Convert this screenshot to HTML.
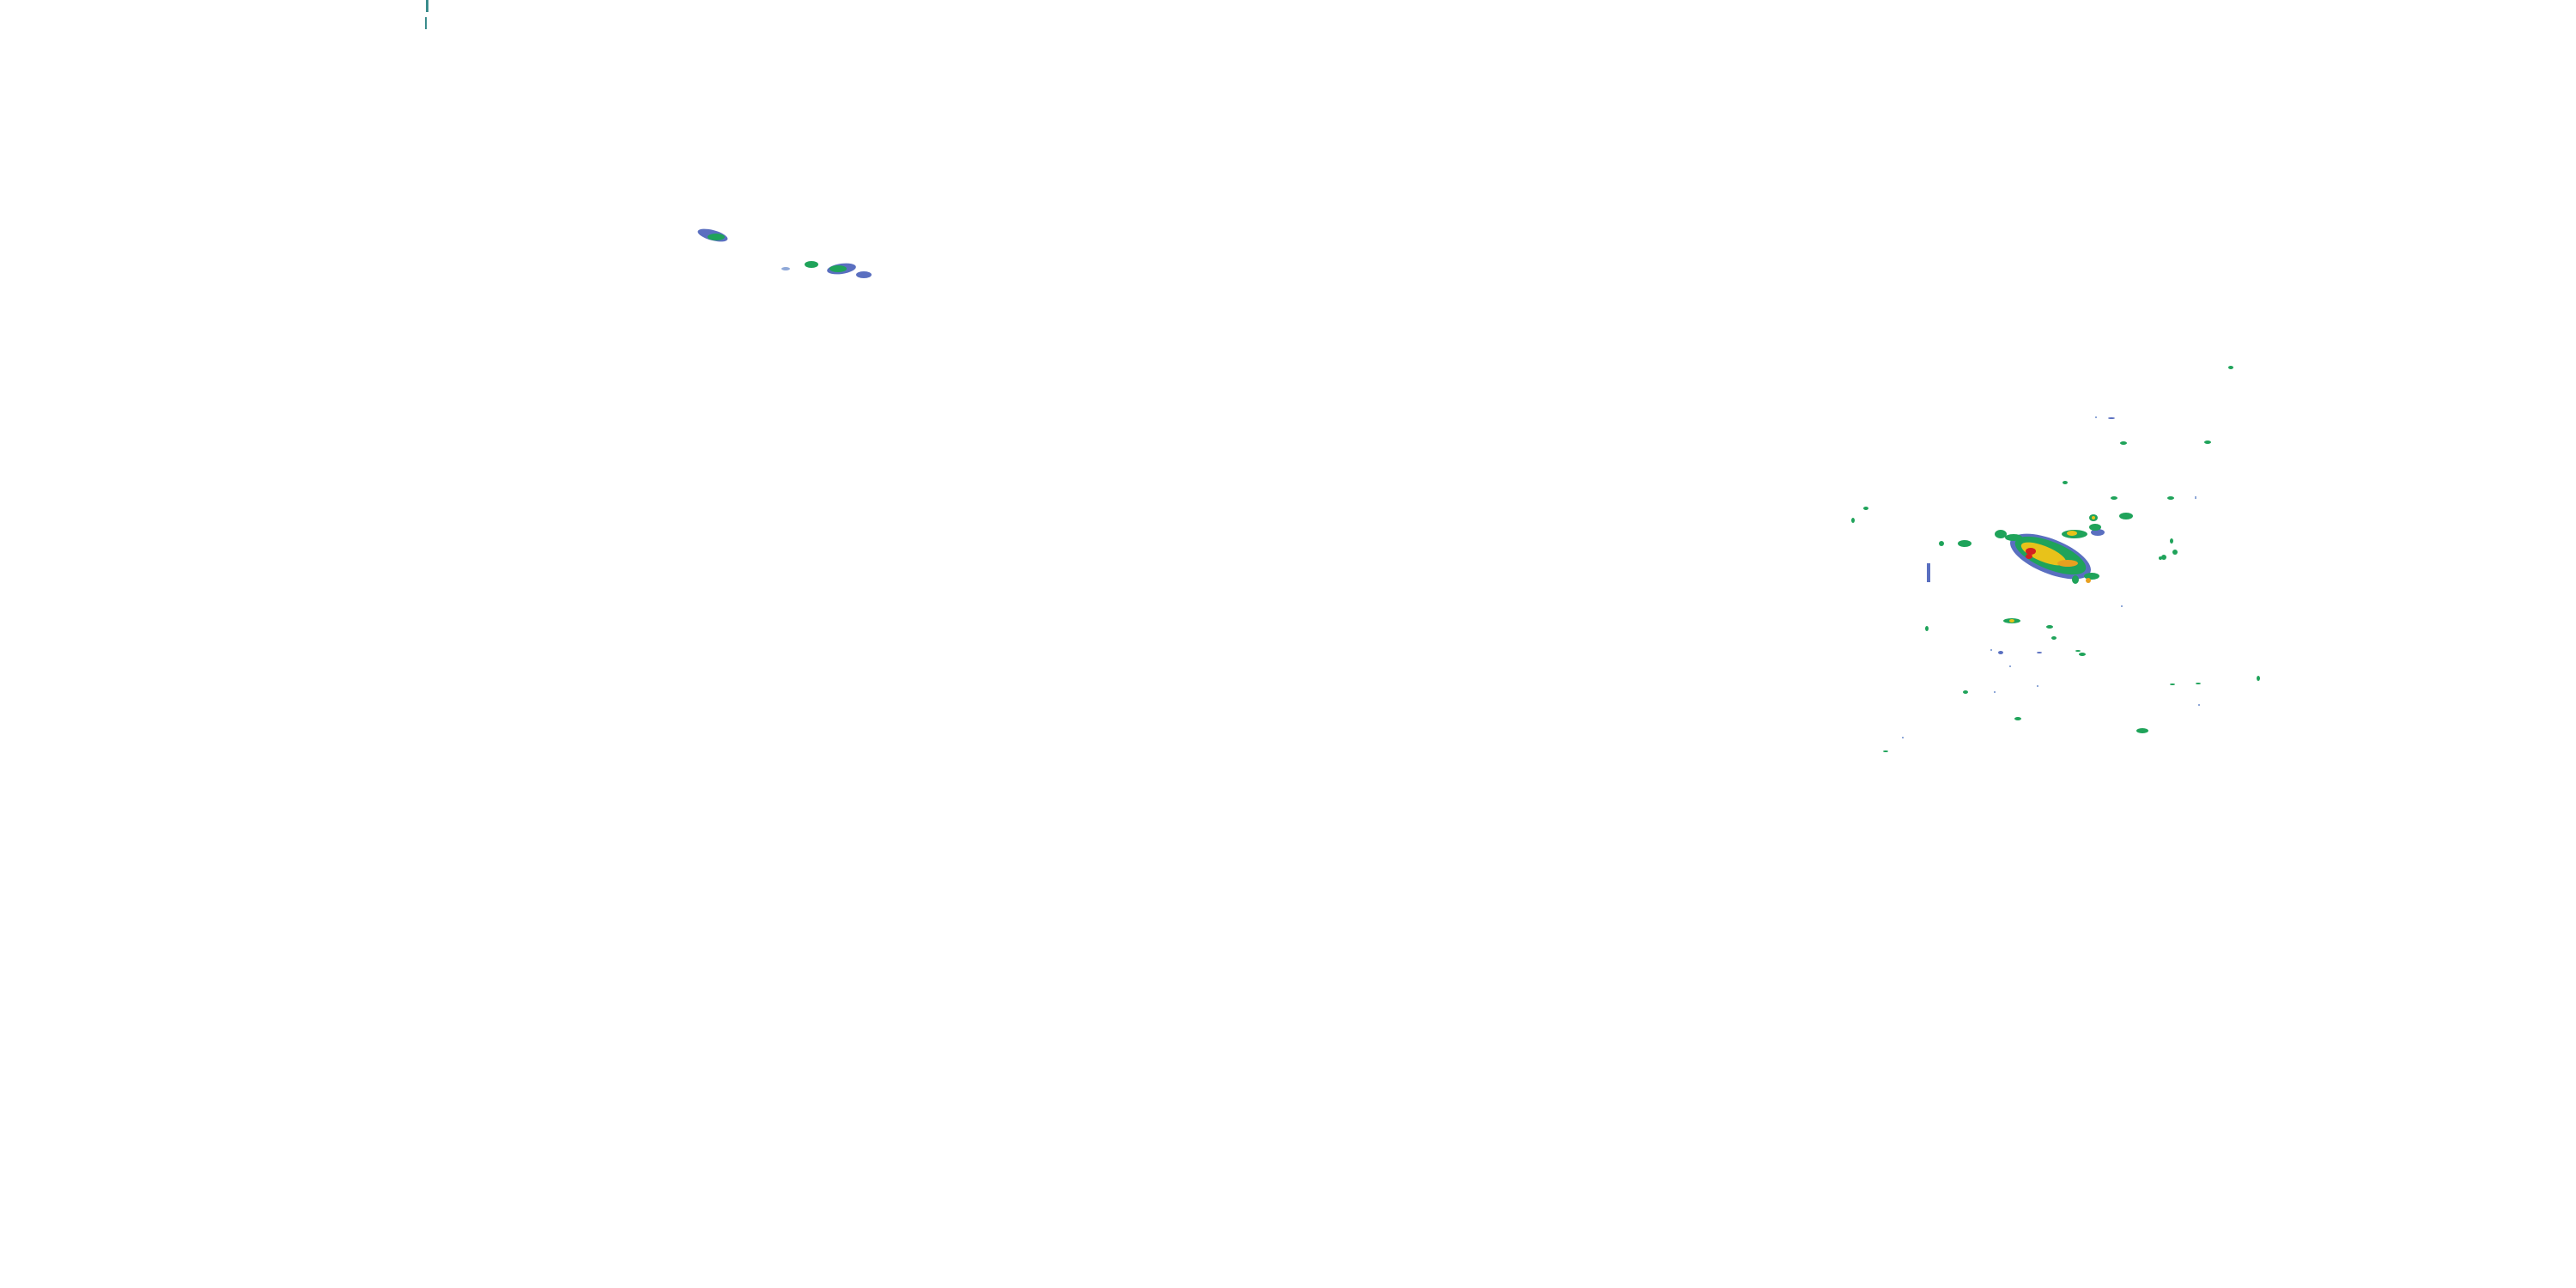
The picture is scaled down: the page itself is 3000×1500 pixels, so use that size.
<!DOCTYPE html>
<html><head><meta charset="utf-8"><style>
html,body{margin:0;padding:0;background:#fff;width:3000px;height:1500px;overflow:hidden}
</style></head><body>
<svg width="3000" height="1500" viewBox="0 0 3000 1500" xmlns="http://www.w3.org/2000/svg">
<rect width="3000" height="1500" fill="#fff"/>
<!-- top-left streak -->
<rect x="496" y="0" width="3" height="14" fill="#3a8c8c"/>
<rect x="495" y="20" width="2" height="14" fill="#3a8c8c"/>
<!-- NW cluster -->
<g>
<ellipse cx="830" cy="274" rx="18" ry="6" fill="#5a6fc0" transform="rotate(15 830 274)"/>
<ellipse cx="834" cy="276" rx="10" ry="4" fill="#1fa35a"/>
<ellipse cx="945" cy="308" rx="8" ry="4" fill="#1fa35a"/>
<ellipse cx="980" cy="313" rx="17" ry="6" fill="#5a6fc0" transform="rotate(-8 980 313)"/>
<ellipse cx="976" cy="313" rx="10" ry="4" fill="#1fa35a"/>
<ellipse cx="1006" cy="320" rx="9" ry="4" fill="#5a6fc0"/>
<ellipse cx="915" cy="313" rx="5" ry="2" fill="#8fa8d8"/>
</g>
<!-- main storm -->
<g>
<ellipse cx="2388" cy="648" rx="50" ry="20" fill="#5a6fc0" transform="rotate(22 2388 648)"/>
<ellipse cx="2388" cy="647" rx="44" ry="16" fill="#1fa35a" transform="rotate(22 2388 647)"/>
<ellipse cx="2380" cy="645" rx="28" ry="9" fill="#e8c21a" transform="rotate(22 2380 645)"/>
<ellipse cx="2365" cy="642" rx="6" ry="4" fill="#d42020"/>
<ellipse cx="2363" cy="648" rx="4" ry="3" fill="#d42020"/>
<ellipse cx="2408" cy="656" rx="12" ry="4" fill="#e8a020"/>
<ellipse cx="2416" cy="622" rx="15" ry="5" fill="#1fa35a"/>
<ellipse cx="2413" cy="621" rx="6" ry="3" fill="#e8c21a"/>
<ellipse cx="2443" cy="620" rx="8" ry="4" fill="#5a6fc0"/>
<ellipse cx="2440" cy="614" rx="7" ry="4" fill="#1fa35a"/>
<ellipse cx="2438" cy="603" rx="5" ry="4" fill="#1fa35a"/>
<ellipse cx="2438" cy="603" rx="2" ry="2" fill="#e8c21a"/>
<ellipse cx="2476" cy="601" rx="8" ry="4" fill="#1fa35a"/>
<ellipse cx="2330" cy="622" rx="7" ry="5" fill="#1fa35a"/>
<ellipse cx="2345" cy="626" rx="10" ry="4" fill="#1fa35a"/>
<ellipse cx="2288" cy="633" rx="8" ry="4" fill="#1fa35a"/>
<ellipse cx="2436" cy="671" rx="9" ry="4" fill="#1fa35a"/>
<ellipse cx="2432" cy="676" rx="3" ry="3" fill="#e8a020"/>
<ellipse cx="2417" cy="675" rx="4" ry="5" fill="#1fa35a"/>
<ellipse cx="2261" cy="633" rx="3" ry="3" fill="#1fa35a"/>
<ellipse cx="2520" cy="649" rx="3" ry="3" fill="#1fa35a"/>
<ellipse cx="2533" cy="643" rx="3" ry="3" fill="#1fa35a"/>
<ellipse cx="2529" cy="630" rx="2" ry="3" fill="#1fa35a"/>
<ellipse cx="2516" cy="650" rx="2" ry="2" fill="#1fa35a"/>
</g>
<!-- scattered -->
<g fill="#1fa35a">
<rect x="2244" y="656" width="4" height="22" fill="#5a6fc0"/>
<ellipse cx="2343" cy="723" rx="10" ry="3"/>
<ellipse cx="2343" cy="723" rx="3" ry="2" fill="#e8c21a"/>
<ellipse cx="2387" cy="730" rx="4" ry="2"/>
<ellipse cx="2392" cy="743" rx="3" ry="2"/>
<ellipse cx="2244" cy="732" rx="2" ry="3"/>
<ellipse cx="2462" cy="580" rx="4" ry="2"/>
<ellipse cx="2473" cy="516" rx="4" ry="2"/>
<ellipse cx="2405" cy="562" rx="3" ry="2"/>
<ellipse cx="2459" cy="487" rx="4" ry="1" fill="#5a6fc0"/>
<ellipse cx="2571" cy="515" rx="4" ry="2"/>
<ellipse cx="2528" cy="580" rx="4" ry="2"/>
<ellipse cx="2495" cy="851" rx="7" ry="3"/>
<ellipse cx="2350" cy="837" rx="4" ry="2"/>
<ellipse cx="2289" cy="806" rx="3" ry="2"/>
<ellipse cx="2425" cy="762" rx="4" ry="2"/>
<ellipse cx="2530" cy="797" rx="3" ry="1"/>
<ellipse cx="2560" cy="796" rx="3" ry="1"/>
<ellipse cx="2630" cy="790" rx="2" ry="3"/>
<ellipse cx="2196" cy="875" rx="3" ry="1"/>
<ellipse cx="2158" cy="606" rx="2" ry="3"/>
<ellipse cx="2173" cy="592" rx="3" ry="2"/>
<ellipse cx="2598" cy="428" rx="3" ry="2"/>
<ellipse cx="2330" cy="760" rx="3" ry="2" fill="#5a6fc0"/>
<ellipse cx="2375" cy="760" rx="3" ry="1" fill="#5a6fc0"/>
<ellipse cx="2420" cy="758" rx="3" ry="1"/>
</g>
<!-- faint radar speckles scattered in the storm area -->
<g fill="#8fa8d8">
<rect x="2318" y="756" width="2" height="2"/>
<rect x="2340" y="775" width="2" height="2"/>
<rect x="2322" y="805" width="2" height="2"/>
<rect x="2372" y="798" width="2" height="2"/>
<rect x="2470" y="705" width="2" height="2"/>
<rect x="2556" y="578" width="2" height="3"/>
<rect x="2440" y="485" width="2" height="2"/>
<rect x="2215" y="858" width="2" height="2"/>
<rect x="2560" y="820" width="2" height="2"/>
</g>
</svg>
</body></html>
